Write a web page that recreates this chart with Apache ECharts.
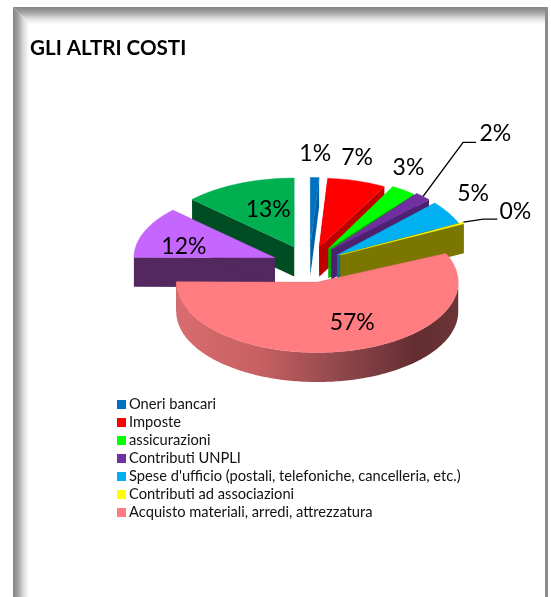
<!DOCTYPE html>
<html>
<head>
<meta charset="utf-8">
<style>html,body{margin:0;padding:0;background:#fff}#c{width:551px;height:597px}</style>
<script src="https://cdn.jsdelivr.net/npm/echarts@6/dist/echarts.min.js"></script>
</head>
<body>
<div id="c"></div>
<script>
const chartTitle = 'GLI ALTRI COSTI';
const categories = [
  'Oneri bancari', 'Imposte', 'assicurazioni', 'Contributi UNPLI',
  "Spese d'ufficio (postali, telefoniche, cancelleria, etc.)",
  'Contributi ad associazioni', 'Acquisto materiali, arredi, attrezzatura',
  'Voce senza legenda A', 'Voce senza legenda B'
];
const legendEntries = categories.slice(0, 7);
const values = [1, 7, 3, 2, 5, 0.3, 56.8, 12, 12.9];

const topColors = ['#0070C0', '#FF0000', '#00FF00', '#7030A0', '#00B0F0', '#FFFF00', '#FF7C80', '#C566FF', '#00B050'];
const wallColors = ['#0062A8', '#C00000', '#00B000', '#4E2070', '#0F6E96', '#7A7600', null, '#52285F', '#004D24'];
const labelOffsets = [[5, -93], [38, -90], [80, -81], [164, -116], [136, -61], [175, -43], [35, 40], [-91, -11], [-26, -37]];
const leaderOffsets = { 3: [[0, 0], [40, -54], [53, -54]], 5: [[0, -1], [20, -4], [34, -4]] };
// the reference has perspective: each slice's small shift and radius scale
const apexNudges = [[1, 0], [0, 0], [-2, -1], [-4, -2], [-4, 0], [-4, -3], [1, -3], [4, -1], [2, -1]];
const radiusScales = [[1, 1], [0.96, 1], [0.95, 1.03], [0.95, 1.06], [0.95, 1.1], [0.96, 1.1], [1, 1.02], [1, 1], [1, 1]];

const center = [308, 266], rx = 141, ry = 69, depth = 29.5, explode = 40;
const total = values.reduce((a, b) => a + b, 0);
const rad = d => d * Math.PI / 180;
let cum = 0;
const slices = values.map((v, i) => {
  const a0 = cum / total * 360; cum += v;
  const a1 = cum / total * 360, mid = (a0 + a1) / 2;
  return {
    a0, a1, mid,
    rx: rx * radiusScales[i][0], ry: ry * radiusScales[i][1],
    ax: center[0] + explode * Math.sin(rad(mid)) + apexNudges[i][0],
    ay: center[1] - explode * (ry / rx) * Math.cos(rad(mid)) + apexNudges[i][1]
  };
});
const rim = (s, a) => [s.ax + s.rx * Math.sin(rad(a)), s.ay - s.ry * Math.cos(rad(a))];
const down = p => [p[0], p[1] + depth];
const sideGradient = new echarts.graphic.LinearGradient(0, 0, 1, 0, [
  { offset: 0, color: '#D96C6E' }, { offset: 0.3, color: '#C66062' },
  { offset: 0.6, color: '#8C4649' }, { offset: 0.85, color: '#632E31' }, { offset: 1, color: '#6B3538' }
]);

function renderSlice(i) {
  const s = slices[i], kids = [];
  const wall = wallColors[i] || '#8C4649';
  [s.a0, s.a1].forEach(a => {
    const p = rim(s, a), c = [s.ax, s.ay];
    kids.push({ type: 'polygon', shape: { points: [c, p, down(p), down(c)] }, style: { fill: wall } });
  });
  const from = Math.max(s.a0, 90), to = Math.min(s.a1, 270);
  if (to > from) {
    const upper = [], lower = [];
    for (let a = from; a <= to; a += 1) { const p = rim(s, a); upper.push(p); lower.unshift(down(p)); }
    kids.push({ type: 'polygon', shape: { points: upper.concat(lower) },
      style: { fill: wallColors[i] || sideGradient } });
  }
  const pts = [[s.ax, s.ay]];
  const step = Math.min(1, (s.a1 - s.a0) / 2);
  for (let a = s.a0; a < s.a1; a += step) pts.push(rim(s, a));
  pts.push(rim(s, s.a1));
  kids.push({ type: 'polygon', shape: { points: pts }, style: { fill: topColors[i], stroke: topColors[i], lineWidth: 0.4 } });
  return { type: 'group', children: kids };
}

function renderLabel(i, value) {
  const s = slices[i], kids = [], off = labelOffsets[i];
  const r = rim(s, s.mid), lead = leaderOffsets[i];
  if (lead) kids.push({ type: 'polyline',
    shape: { points: lead.map(o => [r[0] + o[0], r[1] + o[1]]) },
    style: { stroke: '#000', lineWidth: 1.4, fill: 'none' } });
  kids.push({ type: 'text', style: {
    text: Math.round(value / total * 100) + '%', x: s.ax + off[0], y: s.ay + off[1],
    align: 'center', verticalAlign: 'middle', font: '23px Lato', fill: '#000' } });
  return { type: 'group', children: kids };
}

const backToFront = slices.map((s, i) => [Math.cos(rad(s.mid)), i]).sort((a, b) => b[0] - a[0]).map(e => e[1]);
const sliceSeries = categories.map((name, i) => ({
  type: 'custom', name, coordinateSystem: 'none', z: 2 + backToFront.indexOf(i),
  itemStyle: { color: topColors[i] }, data: [[values[i]]], silent: true,
  renderItem: () => renderSlice(i)
}));
const labelSeries = {
  type: 'custom', name: 'etichette', coordinateSystem: 'none', z: 30, silent: true,
  data: values.map(v => [v]),
  renderItem: (p, api) => renderLabel(p.dataIndex, api.value(0))
};

const fade = (x0, y0, x1, y1) => new echarts.graphic.LinearGradient(x0, y0, x1, y1, [
  { offset: 0, color: '#848484' }, { offset: 0.3, color: '#A0A0A0' },
  { offset: 0.65, color: '#DADADA' }, { offset: 1, color: '#FFFFFF' }
]);
const chart = echarts.init(document.getElementById('c'), null, { renderer: 'canvas' });
chart.setOption({
  animation: false,
  backgroundColor: '#fff',
  title: { text: chartTitle, left: 30, top: 38, padding: 0,
    textStyle: { fontFamily: 'Lato', fontWeight: 'bold', fontSize: 20.6, color: '#000' } },
  legend: {
    orient: 'vertical', left: 117, top: 397, padding: 0, data: legendEntries, selectedMode: false,
    icon: 'rect', itemWidth: 9, itemHeight: 9, itemGap: 3,
    textStyle: { fontFamily: 'Lato', fontSize: 14.7, color: '#111', padding: [0, 0, 0, -2], lineHeight: 13 }
  },
  graphic: [
    { type: 'polygon', z: 0, shape: { points: [[13, 7], [547, 7], [547, 24], [29, 24]] }, style: { fill: fade(0, 0, 0, 1) } },
    { type: 'polygon', z: 0, shape: { points: [[13, 7], [29, 24], [29, 597], [13, 597]] }, style: { fill: fade(0, 0, 1, 0) } },
    { type: 'rect', z: 0, shape: { x: 545, y: 7, width: 3, height: 590 }, style: { fill: '#8C8C8C' } }
  ],
  series: sliceSeries.concat(labelSeries)
});
</script>
</body>
</html>
